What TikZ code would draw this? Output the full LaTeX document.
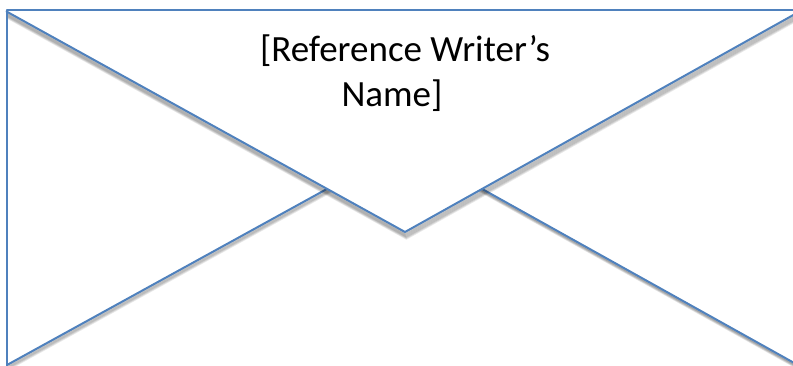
\documentclass[tikz,border=0pt]{standalone}
\usepackage{fontspec}
\setmainfont{Carlito}
\definecolor{envblue}{HTML}{4F81BD}
\begin{document}
\begin{tikzpicture}[x=1pt,y=-1pt,
  edge/.style={draw=envblue,line width=2pt,line cap=round,line join=round},
  shade/.style={draw=black,line width=2.5pt,opacity=0.09},
  label/.style={font=\fontsize{37}{45}\selectfont,anchor=base,inner sep=0pt}]
\useasboundingbox[fill=white] (0,0) rectangle (793,366);
% corner points
\coordinate (tl) at (6.5,10.5);
\coordinate (tr) at (800,10.5);
\coordinate (bl) at (6.5,370);
\coordinate (fl) at (6.5,11.5);
\coordinate (fr) at (796,13.5);
\coordinate (apex) at (405,232);
\coordinate (mid) at (405,146);
\coordinate (lb) at (7,365);
\coordinate (rb) at (796,364);
% lower fold lines with soft shadow
\foreach \k in {1,...,5}{
  \path[shade,transform canvas={yshift=-\k*0.8pt,xshift=0.3*\k pt}] (lb) -- (mid) -- (rb);
}
\draw[edge] (lb) -- (mid) -- (rb);
% flap shadow
\foreach \k in {1,...,7}{
  \path[shade,transform canvas={yshift=-\k*0.9pt,xshift=0.2*\k pt}] (fl) -- (apex) -- (fr);
}
% flap
\fill[white] (fl) -- (apex) -- (fr) -- (tr) -- (tl) -- cycle;
\draw[edge] (fl) -- (apex) -- (fr);
% envelope border
\draw[edge] (tr) -- (tl) -- (bl);
% text
\node[label] (line1) at (405,62) {[Reference Writer’s};
\node[label] (line2) at (392,107) {Name]};
\end{tikzpicture}
\end{document}
